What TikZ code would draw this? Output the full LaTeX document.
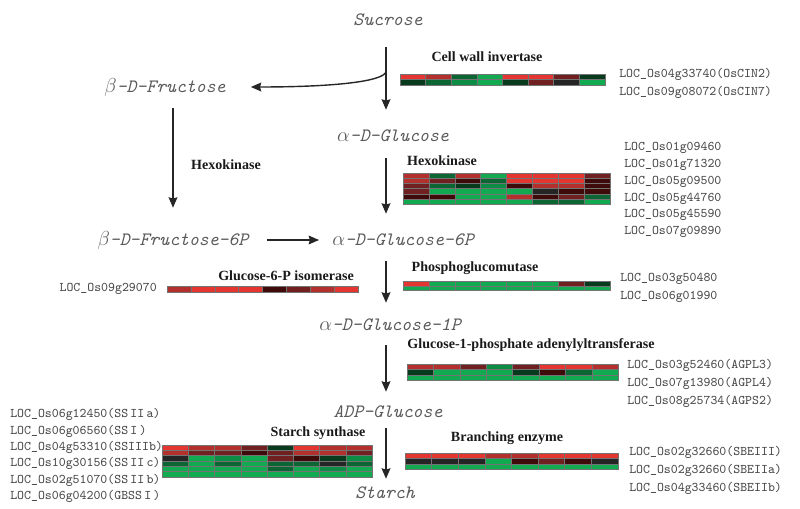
\documentclass[tikz,border=0pt]{standalone}
\usepackage{fontspec}
\setmainfont{Liberation Serif}
\usepackage{tikz}
\usetikzlibrary{arrows.meta}
\definecolor{MetaGray}{HTML}{5A5A5A}
\definecolor{LocGray}{HTML}{4A4A4A}
\definecolor{Ink}{HTML}{1A1A1A}
% expression colours of the heat maps
\definecolor{hmR3}{HTML}{E53530}
\definecolor{hmR2}{HTML}{B3302C}
\definecolor{hmR1}{HTML}{702020}
\definecolor{hmR0}{HTML}{3E0A0A}
\definecolor{hmK}{HTML}{252525}
\definecolor{hmG0}{HTML}{083A1E}
\definecolor{hmG1}{HTML}{0B6634}
\definecolor{hmG2}{HTML}{0D8C45}
\definecolor{hmG3}{HTML}{11AA50}

% #1 left, #2 top, #3 cell width, #4 cell height, #5 rows of colour codes
\newcommand{\heatmap}[5]{%
  \foreach \hrow [count=\i] in {#5}{
    \foreach \hc [count=\j] in \hrow {
      \filldraw[cell,fill=hm\hc] ({#1+(\j-1)*#3},{#2+(\i-1)*#4}) rectangle ++(#3,#4);
    }
  }%
}

\begin{document}
\begin{tikzpicture}[
  x=0.25mm,y=-0.25mm,
  metab/.style={font=\ttfamily\itshape\fontsize{13.4}{16}\selectfont,text=MetaGray,
    inner sep=0pt,minimum height=5mm},
  enzyme/.style={font=\bfseries\fontsize{10}{12}\selectfont,text=Ink,inner sep=0pt},
  locus/.style={font=\ttfamily\fontsize{9.4}{11}\selectfont,text=LocGray,inner sep=0pt,anchor=west},
  flow/.style={-{Stealth[length=2.6mm,width=2.2mm,inset=.3mm]},line width=1pt,draw=black!85},
  cell/.style={draw=black!55,line width=.3pt}
]
  \useasboundingbox (0,0) rectangle (800,509);

  % metabolites
  \node[metab] (suc) at (388,20) {Sucrose};
  \node[metab] (fru) at (165,87) {$\beta$-D-Fructose};
  \node[metab] (glc) at (393,136) {$\alpha$-D-Glucose};
  \node[metab] (f6p) at (173,240) {$\beta$-D-Fructose-6P};
  \node[metab] (g6p) at (403,240) {$\alpha$-D-Glucose-6P};
  \node[metab] (g1p) at (390,325) {$\alpha$-D-Glucose-1P};
  \node[metab] (adp) at (388,412) {ADP-Glucose};
  \node[metab] (sta) at (385,493) {Starch};

  \coordinate (spine) at (386,0);
  \coordinate (split) at (386,72);

  % reactions
  \draw[flow,shorten <=4.25mm,shorten >=4mm] (suc.south -| spine) -- (glc.north -| spine);
  \draw[flow,shorten >=6.25mm] (split) .. controls (382,82) and (330,87) .. (fru.east);
  \draw[flow,shorten <=3mm,shorten >=4mm] (glc.south -| spine) -- (g6p.north -| spine);
  \draw[flow,shorten <=2.75mm,shorten >=3mm] (g6p.south -| spine) -- (g1p.north -| spine);
  \draw[flow,shorten <=2.5mm,shorten >=2.5mm] (g1p.south -| spine) -- (adp.north -| spine);
  \draw[flow,shorten <=1.5mm,shorten >=1mm] (adp.south -| spine) -- (sta.north -| spine);
  \draw[flow,shorten <=2.75mm,shorten >=5.5mm] (fru.south -| f6p) -- (f6p.north);
  \draw[flow,shorten <=4.5mm,shorten >=3.25mm] (f6p.east) -- (g6p.west);

  % enzymes
  \node[enzyme] (cwi) at (487,57) {Cell wall invertase};
  \node[enzyme] (hkl) at (226,165) {Hexokinase};
  \node[enzyme] (hkr) at (442,161) {Hexokinase};
  \node[enzyme] (gpi) at (286,276) {Glucose-6-P isomerase};
  \node[enzyme] (pgm) at (475,268) {Phosphoglucomutase};
  \node[enzyme] (agp) at (531,345) {Glucose-1-phosphate adenylyltransferase};
  \node[enzyme] (ss) at (318,433) {Starch synthase};
  \node[enzyme] (be) at (507,438) {Branching enzyme};

  % heat maps
  \heatmap{400}{74}{25.6}{5.5}{{R3,R2,G1,G3,R3,R3,R1,G0},{G0,G1,G2,G3,G0,R1,K,G3}}
  \heatmap{403}{173}{25.9}{5.2}{{R2,G1,R2,G3,R3,R3,R3,R1},{R2,R1,R0,G1,R3,R3,R3,R0},
    {R1,G1,G0,G2,R0,R2,R2,R0},{R1,G3,G3,G3,G3,K,R0,R0},
    {R0,R0,G3,G3,R2,R0,R1,G1},{G3,G3,G3,G3,G3,G1,G1,G3}}
  \heatmap{167}{286}{23.9}{6}{{R2,R3,R3,R3,R0,R1,R2,R3}}
  \heatmap{403}{281}{25.9}{4.8}{{R3,G3,G3,G3,G3,G3,R1,G0},{G3,G3,G3,G3,G3,G3,G3,G3}}
  \heatmap{407}{364}{26.4}{5.4}{{R2,R2,R1,G2,R1,R3,R3,R2},{G0,G3,G3,G3,G0,R0,G1,G3},
    {G3,G3,G3,G3,G3,G3,G3,G3}}
  \heatmap{162}{445}{26.25}{5.3}{{R3,R2,R2,R1,G0,R3,R2,R2},{R2,R1,R1,R0,R1,R2,R2,R1},
    {K,G3,G2,G3,R1,R0,G0,G2},{G1,G3,G1,G3,G1,G1,K,G1},
    {G3,G3,G3,G3,G1,G3,G2,G3},{G3,G3,G3,G3,G3,G3,G3,G3}}
  \heatmap{405}{453}{26.6}{5.4}{{R3,R3,R3,R2,R2,R3,R3,R3},{K,K,K,G3,R0,R1,R0,K},
    {G3,G3,G3,G3,G3,G3,G3,G3}}

  % loci
  \node[locus] (cin2) at (619,74) {LOC\_Os04g33740(OsCIN2)};
  \node[locus] (cin7) at (619,92) {LOC\_Os09g08072(OsCIN7)};
  \foreach \loc [count=\k] in {LOC\_Os01g09460,LOC\_Os01g71320,LOC\_Os05g09500,
      LOC\_Os05g44760,LOC\_Os05g45590,LOC\_Os07g09890}
    \node[locus] (hk\k) at (624,{148+(\k-1)*16.8}) {\loc};
  \node[locus,anchor=east] (gpi1) at (157,289) {LOC\_Os09g29070};
  \node[locus] (pgm1) at (620,279) {LOC\_Os03g50480};
  \node[locus] (pgm2) at (620,297) {LOC\_Os06g01990};
  \node[locus] (agp1) at (627,365) {LOC\_Os03g52460(AGPL3)};
  \node[locus] (agp2) at (627,383) {LOC\_Os07g13980(AGPL4)};
  \node[locus] (agp3) at (627,401) {LOC\_Os08g25734(AGPS2)};
  \node[locus] (ss1) at (10,414) {LOC\_Os06g12450(SS\,II\,a)};
  \node[locus] (ss2) at (10,431) {LOC\_Os06g06560(SS\,I\,)};
  \node[locus] (ss3) at (10,447) {LOC\_Os04g53310(SSIIIb)};
  \node[locus] (ss4) at (10,463) {LOC\_Os10g30156(SS\,II\,c)};
  \node[locus] (ss5) at (10,480) {LOC\_Os02g51070(SS\,II\,b)};
  \node[locus] (ss6) at (10,496) {LOC\_Os06g04200(GBSS\,I\,)};
  \node[locus] (be1) at (629,452) {LOC\_Os02g32660(SBEIII)};
  \node[locus] (be2) at (629,470) {LOC\_Os02g32660(SBEIIa)};
  \node[locus] (be3) at (629,488) {LOC\_Os04g33460(SBEIIb)};
\end{tikzpicture}
\end{document}
